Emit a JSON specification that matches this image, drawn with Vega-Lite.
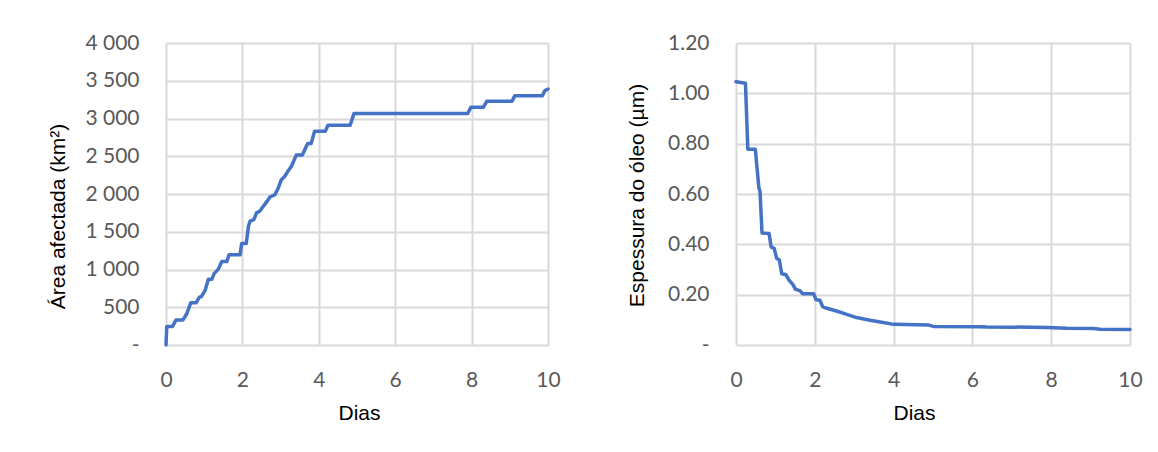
{
  "$schema": "https://vega.github.io/schema/vega-lite/v6.json",
  "background": "white",
  "padding": {"left": 47, "top": 32, "right": 10, "bottom": 10},
  "datasets": {
    "area": [
      {"dia": 0, "area": 0},
      {"dia": 0.02, "area": 245},
      {"dia": 0.17, "area": 245},
      {"dia": 0.26, "area": 330},
      {"dia": 0.44, "area": 330},
      {"dia": 0.54, "area": 410},
      {"dia": 0.65, "area": 560},
      {"dia": 0.79, "area": 560},
      {"dia": 0.87, "area": 632},
      {"dia": 0.93, "area": 645},
      {"dia": 1.02, "area": 720},
      {"dia": 1.11, "area": 870},
      {"dia": 1.2, "area": 870},
      {"dia": 1.26, "area": 945},
      {"dia": 1.37, "area": 1005},
      {"dia": 1.46, "area": 1105},
      {"dia": 1.59, "area": 1105},
      {"dia": 1.65, "area": 1195},
      {"dia": 1.94, "area": 1195},
      {"dia": 1.98, "area": 1345},
      {"dia": 2.1, "area": 1345},
      {"dia": 2.16, "area": 1575},
      {"dia": 2.2, "area": 1640},
      {"dia": 2.3, "area": 1660},
      {"dia": 2.37, "area": 1750},
      {"dia": 2.46, "area": 1775},
      {"dia": 2.55, "area": 1840},
      {"dia": 2.65, "area": 1905},
      {"dia": 2.72, "area": 1960},
      {"dia": 2.85, "area": 1990},
      {"dia": 2.94, "area": 2080},
      {"dia": 3.02, "area": 2190},
      {"dia": 3.11, "area": 2235},
      {"dia": 3.19, "area": 2300},
      {"dia": 3.28, "area": 2365},
      {"dia": 3.41, "area": 2515},
      {"dia": 3.57, "area": 2515},
      {"dia": 3.65, "area": 2605},
      {"dia": 3.71, "area": 2670},
      {"dia": 3.8, "area": 2670},
      {"dia": 3.89, "area": 2830},
      {"dia": 4.17, "area": 2830},
      {"dia": 4.24, "area": 2910},
      {"dia": 4.82, "area": 2910},
      {"dia": 4.92, "area": 3065},
      {"dia": 7.9, "area": 3065},
      {"dia": 7.98, "area": 3150},
      {"dia": 8.31, "area": 3150},
      {"dia": 8.4, "area": 3230},
      {"dia": 9.06, "area": 3230},
      {"dia": 9.13, "area": 3300},
      {"dia": 9.85, "area": 3300},
      {"dia": 9.92, "area": 3370},
      {"dia": 10, "area": 3390}
    ],
    "oleo": [
      {"dia": 0, "espessura": 1.046},
      {"dia": 0.24, "espessura": 1.04},
      {"dia": 0.3, "espessura": 0.778},
      {"dia": 0.49, "espessura": 0.778},
      {"dia": 0.58, "espessura": 0.625},
      {"dia": 0.61, "espessura": 0.61},
      {"dia": 0.66, "espessura": 0.445},
      {"dia": 0.84, "espessura": 0.443},
      {"dia": 0.89, "espessura": 0.39},
      {"dia": 0.97, "espessura": 0.384},
      {"dia": 1.03, "espessura": 0.345},
      {"dia": 1.1, "espessura": 0.338},
      {"dia": 1.16, "espessura": 0.283},
      {"dia": 1.27, "espessura": 0.279},
      {"dia": 1.34, "espessura": 0.259},
      {"dia": 1.45, "espessura": 0.239},
      {"dia": 1.51, "espessura": 0.221},
      {"dia": 1.62, "espessura": 0.216},
      {"dia": 1.69, "espessura": 0.204},
      {"dia": 1.97, "espessura": 0.204},
      {"dia": 2.03, "espessura": 0.18},
      {"dia": 2.13, "espessura": 0.178},
      {"dia": 2.2, "espessura": 0.152},
      {"dia": 2.26, "espessura": 0.148},
      {"dia": 2.55, "espessura": 0.135},
      {"dia": 2.81, "espessura": 0.122},
      {"dia": 3.06, "espessura": 0.109},
      {"dia": 3.4, "espessura": 0.098},
      {"dia": 3.66, "espessura": 0.091},
      {"dia": 4.0, "espessura": 0.082},
      {"dia": 4.89, "espessura": 0.079},
      {"dia": 5.01, "espessura": 0.074},
      {"dia": 6.2, "espessura": 0.073},
      {"dia": 6.37, "espessura": 0.072},
      {"dia": 7.89, "espessura": 0.07},
      {"dia": 8.4, "espessura": 0.067},
      {"dia": 9.07, "espessura": 0.066},
      {"dia": 9.24, "espessura": 0.063},
      {"dia": 10, "espessura": 0.062}
    ]
  },
  "spacing": 188,
  "bounds": "flush",
  "hconcat": [
    {
      "data": {"name": "area"},
      "width": 382,
      "height": 302,
      "mark": {"type": "line", "color": "#4472c4", "strokeWidth": 3.5, "strokeJoin": "round", "strokeCap": "round"},
      "encoding": {
        "x": {
          "field": "dia", "type": "quantitative",
          "scale": {"domain": [0, 10], "nice": false},
          "axis": {"values": [0, 2, 4, 6, 8, 10], "title": "Dias", "titleX": 193, "titleY": 68, "titleBaseline": "middle"}
        },
        "y": {
          "field": "area", "type": "quantitative",
          "scale": {"domain": [0, 4000], "nice": false},
          "axis": {
            "values": [0, 500, 1000, 1500, 2000, 2500, 3000, 3500, 4000],
            "labelExpr": "datum.value === 0 ? '-' : replace(format(datum.value, ','), ',', ' ')",
            "title": "Área afectada (km²)", "titleX": -108, "titleY": 173, "titleBaseline": "middle"
          }
        }
      }
    },
    {
      "data": {"name": "oleo"},
      "width": 394,
      "height": 302,
      "mark": {"type": "line", "color": "#4472c4", "strokeWidth": 3.5, "strokeJoin": "round", "strokeCap": "round"},
      "encoding": {
        "x": {
          "field": "dia", "type": "quantitative",
          "scale": {"domain": [0, 10], "nice": false},
          "axis": {"values": [0, 2, 4, 6, 8, 10], "title": "Dias", "titleX": 178, "titleY": 68, "titleBaseline": "middle"}
        },
        "y": {
          "field": "espessura", "type": "quantitative",
          "scale": {"domain": [0, 1.2], "nice": false},
          "axis": {
            "values": [0, 0.2, 0.4, 0.6, 0.8, 1.0, 1.2],
            "labelExpr": "datum.value === 0 ? '-\u00a0\u00a0\u00a0' : format(datum.value, '.2f')",
            "title": "Espessura do óleo (µm)", "titleX": -99, "titleY": 152, "titleBaseline": "middle"
          }
        }
      }
    }
  ],
  "config": {
    "view": {"stroke": null},
    "axis": {
      "grid": true, "gridColor": "#d9d9d9", "gridWidth": 2,
      "domain": false, "ticks": false, "tickSize": 0,
      "labelFont": "Lato", "labelFontSize": 21, "labelColor": "#595959",
      "labelPadding": 24, "labelFlush": false, "labelOverlap": false,
      "titleFont": "Liberation Sans", "titleFontSize": 21, "titleFontWeight": "normal", "titleColor": "#000000"
    },
    "axisY": {"labelPadding": 27}
  }
}
